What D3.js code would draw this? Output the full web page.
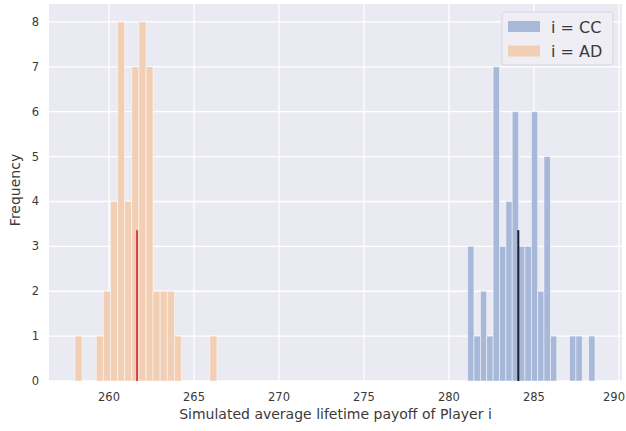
<!DOCTYPE html>
<html>
<head>
<meta charset="utf-8">
<script src="https://cdn.jsdelivr.net/npm/d3@7"></script>
<style>
  body { margin: 0; background: #fff; }
  text { font-family: "DejaVu Sans", sans-serif; }
</style>
</head>
<body>
<div id="chart"></div>
<script>
// bin edges and counts (20 bins each)
const ccEdges = [281.10, 281.47, 281.85, 282.22, 282.60, 282.97, 283.35, 283.72, 284.10, 284.47,
  284.85, 285.22, 285.59, 285.97, 286.34, 286.72, 287.09, 287.47, 287.84, 288.22, 288.59]
const ccCounts = [3, 1, 2, 1, 7, 3, 4, 6, 3, 3, 6, 2, 5, 1, 0, 0, 1, 1, 0, 1]

const adEdges = [258.00, 258.42, 258.84, 259.25, 259.67, 260.09, 260.51, 260.92, 261.34, 261.76,
  262.18, 262.59, 263.01, 263.43, 263.85, 264.26, 264.68, 265.10, 265.52, 265.93, 266.35]
const adCounts = [1, 0, 0, 1, 2, 4, 8, 4, 7, 8, 7, 2, 2, 2, 1, 0, 0, 0, 0, 1]

const ccMean = 284.08
const adMean = 261.65

const xTicks = [260, 265, 270, 275, 280, 285, 290]
const yTicks = [0, 1, 2, 3, 4, 5, 6, 7, 8]
const legendLabels = ["i = CC", "i = AD"]

const W = 626, H = 431
const margin = { top: 4, right: 4, bottom: 50, left: 49 }
const width = W - margin.left - margin.right,
  height = H - margin.top - margin.bottom

const blue = "#a7b8d9", orange = "#f2cfb4"

const svg = d3.select("#chart").append("svg")
  .attr("width", W).attr("height", H)

const g = svg.append("g")
  .attr("transform", "translate(" + margin.left + "," + margin.top + ")")

const x = d3.scaleLinear().domain([256.47, 290.18]).range([0, width])
const y = d3.scaleLinear().domain([0, 8.4]).range([height, 0])

g.append("rect").attr("width", width).attr("height", height).attr("fill", "#eaeaf2")

// grid
g.selectAll(".gx").data(xTicks).enter().append("line")
  .attr("x1", d => x(d)).attr("x2", d => x(d))
  .attr("y1", 0).attr("y2", height)
  .attr("stroke", "#fff").attr("stroke-width", 1.3)
g.selectAll(".gy").data(yTicks).enter().append("line")
  .attr("x1", 0).attr("x2", width)
  .attr("y1", d => y(d)).attr("y2", d => y(d))
  .attr("stroke", "#fff").attr("stroke-width", 1.3)

function drawHist(edges, counts, color) {
  const bins = counts.map((c, i) => ({ x0: edges[i], x1: edges[i + 1], n: c })).filter(b => b.n > 0)
  g.append("g").selectAll("rect").data(bins).enter().append("rect")
    .attr("x", d => x(d.x0))
    .attr("width", d => x(d.x1) - x(d.x0))
    .attr("y", d => y(d.n))
    .attr("height", d => y(0) - y(d.n))
    .attr("fill", color)
    .attr("stroke", "#fff").attr("stroke-opacity", 0.55).attr("stroke-width", 0.9)
}
drawHist(ccEdges, ccCounts, blue)
drawHist(adEdges, adCounts, orange)

// mean lines, 40% of the axes height
const lineTop = height * 0.6
g.append("line").attr("x1", x(ccMean)).attr("x2", x(ccMean))
  .attr("y1", height).attr("y2", lineTop).attr("stroke", "#1a1f2e").attr("stroke-width", 2)
g.append("line").attr("x1", x(adMean)).attr("x2", x(adMean))
  .attr("y1", height).attr("y2", lineTop).attr("stroke", "#d6404e").attr("stroke-width", 2)

// tick labels (last one nudged so it stays inside the window)
g.selectAll(".xt").data(xTicks).enter().append("text")
  .attr("x", d => Math.min(x(d), width - 8)).attr("y", height + 20)
  .attr("text-anchor", "middle").attr("font-size", 11.5).attr("fill", "#3a3a3a")
  .text(d => d)
g.selectAll(".yt").data(yTicks).enter().append("text")
  .attr("x", -10).attr("y", d => y(d) + 4)
  .attr("text-anchor", "end").attr("font-size", 11.5).attr("fill", "#3a3a3a")
  .text(d => d)

// axis labels
svg.append("text").attr("x", margin.left + width / 2).attr("y", 419)
  .attr("text-anchor", "middle").attr("font-size", 14).attr("fill", "#3a3a3a")
  .text("Simulated average lifetime payoff of Player i")
svg.append("text").attr("transform", "translate(20,190) rotate(-90)")
  .attr("text-anchor", "middle").attr("font-size", 14).attr("fill", "#3a3a3a")
  .text("Frequency")

// legend
const leg = svg.append("g").attr("transform", "translate(502,12)")
leg.append("rect").attr("width", 111).attr("height", 53).attr("rx", 3)
  .attr("fill", "#eeeef4").attr("stroke", "#d6d6de").attr("stroke-width", 1)
legendLabels.forEach((t, i) => {
  leg.append("rect").attr("x", 6).attr("y", 9 + i * 24.5).attr("width", 32).attr("height", 11)
    .attr("fill", i === 0 ? blue : orange)
  leg.append("text").attr("x", 49).attr("y", 20.5 + i * 24.5)
    .attr("font-size", 16).attr("fill", "#3a3a3a").text(t)
})
</script>
</body>
</html>
